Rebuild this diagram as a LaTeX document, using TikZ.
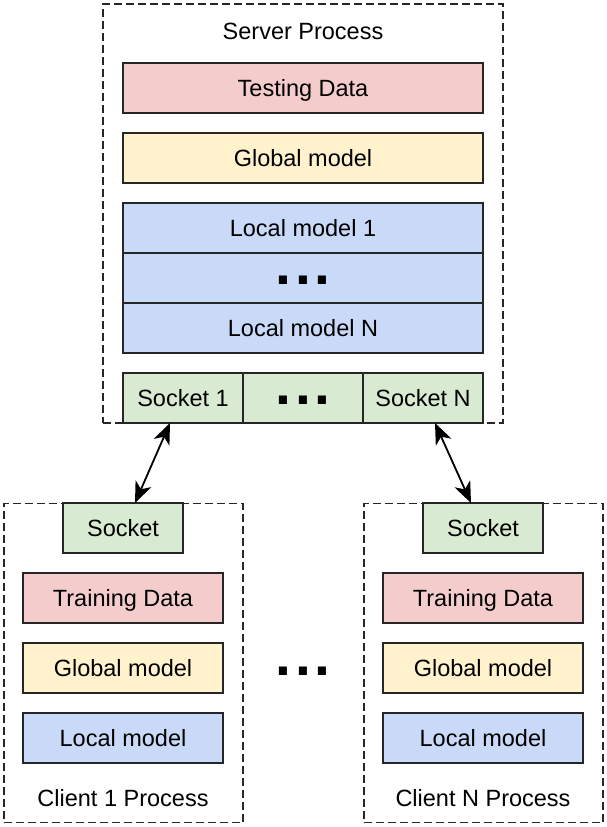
\documentclass[tikz,border=0pt]{standalone}
\usepackage{fontspec}
\setmainfont{Liberation Sans}
\usetikzlibrary{arrows.meta,calc}
\definecolor{pinkf}{HTML}{F4CCCC}
\definecolor{yellowf}{HTML}{FFF2CC}
\definecolor{bluef}{HTML}{C9DAF8}
\definecolor{greenf}{HTML}{D9EAD3}
\begin{document}
\begin{tikzpicture}[x=1pt,y=-1pt,
  every node/.style={font=\fontsize{23.5}{28}\selectfont, inner sep=0pt, outer sep=0pt, text depth=0pt},
  procbox/.style={draw=black!85, line width=1.3pt, dash pattern=on 8pt off 4pt, rectangle},
  blk/.style={draw=black!85, line width=1.6pt, rectangle, minimum height=50pt},
  testbox/.style={blk, fill=pinkf},
  globbox/.style={blk, fill=yellowf},
  locbox/.style={blk, fill=bluef},
  sockbox/.style={blk, fill=greenf},
  dots/.style={font=\fontsize{57}{60}\selectfont\bfseries, text height=8pt, text depth=0pt},
  tipx/.tip={Stealth[length=21pt,width=17pt,inset=6pt]},
  link/.style={line width=1.8pt, tipx-tipx}
]
\useasboundingbox (0,0) rectangle (607,827);
% process boxes
\node[procbox, minimum width=400pt, minimum height=419pt] (server) at (303,213.5) {};
\node[procbox, minimum width=239pt, minimum height=319pt] (client1) at (123.5,663) {};
\node[procbox, minimum width=239pt, minimum height=319pt] (clientN) at (483.5,663) {};
% server content
\node (stitle) at (303,31) {Server Process};
\node[testbox, minimum width=360pt] (test) at (303,88) {Testing Data};
\node[globbox, minimum width=360pt] (sglob) at (303,158) {Global model};
\node[locbox, minimum width=360pt] (loc1) at (303,228) {Local model 1};
\node[locbox, minimum width=360pt] (locm) at (303,278) {};
\node[locbox, minimum width=360pt] (locN) at (303,328) {Local model N};
\node[dots] (ldots) at (303,280) {.\hspace{4pt}.\hspace{4pt}.};
\node[sockbox, minimum width=120pt] (s1) at (183,398) {Socket 1};
\node[sockbox, minimum width=120pt] (sm) at (303,398) {};
\node[sockbox, minimum width=120pt] (sN) at (423,398) {Socket N};
\node[dots] (sdots) at (303,400) {.\hspace{4pt}.\hspace{4pt}.};
% client 1
\node[sockbox, minimum width=120pt] (c1s) at (123,528) {Socket};
\node[testbox, minimum width=200pt] (c1t) at (123,598) {Training Data};
\node[globbox, minimum width=200pt] (c1g) at (123,668) {Global model};
\node[locbox, minimum width=200pt] (c1l) at (123,738) {Local model};
\node (c1title) at (123,798) {Client 1 Process};
% client N
\node[sockbox, minimum width=120pt] (cNs) at (483,528) {Socket};
\node[testbox, minimum width=200pt] (cNt) at (483,598) {Training Data};
\node[globbox, minimum width=200pt] (cNg) at (483,668) {Global model};
\node[locbox, minimum width=200pt] (cNl) at (483,738) {Local model};
\node (cNtitle) at (483,798) {Client N Process};
% middle dots
\node[dots] (mdots) at (303,671) {.\hspace{4pt}.\hspace{4pt}.};
% links
\draw[link] ([xshift=-13pt]s1.south) -- ([xshift=12pt]c1s.north);
\draw[link] ([xshift=12pt]sN.south) -- ([xshift=-12pt]cNs.north);
\end{tikzpicture}
\end{document}
